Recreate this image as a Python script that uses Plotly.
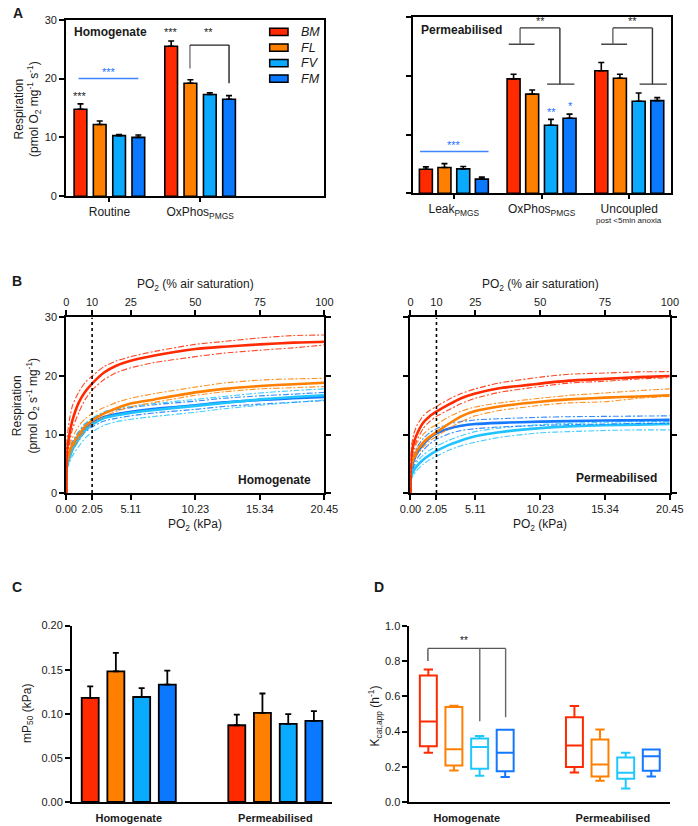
import plotly.graph_objects as go

W, H = 698, 826
def fx(p): return p / W
def fy(p): return 1 - p / H

FONT = 'Arial, Liberation Sans, Helvetica, sans-serif'
TXT = '#1a1a1a'
groups = ['BM', 'FL', 'FV', 'FM']
bar_colors = {'BM': '#FF2A00', 'FL': '#FF8000', 'FV': '#0AAAFF', 'FM': '#0A78FF'}
line_colors = {'BM': '#FF2A00', 'FL': '#FF8000', 'FV': '#22C4FF', 'FM': '#1478FF'}
box_colors = {'BM': '#FF2A00', 'FL': '#FF8000', 'FV': '#1EC8FF', 'FM': '#1478FF'}

# ---------------- Panel A data ----------------
a_hom_categories = ['Routine', 'OxPhos<sub>PMGS</sub>']
a_hom_BM = [14.8, 25.5]
a_hom_FL = [12.2, 19.2]
a_hom_FV = [10.3, 17.3]
a_hom_FM = [10.0, 16.5]
a_hom_BM_sem = [0.9, 0.9]
a_hom_FL_sem = [0.6, 0.6]
a_hom_FV_sem = [0.2, 0.3]
a_hom_FM_sem = [0.4, 0.6]

a_per_categories = ['Leak<sub>PMGS</sub>', 'OxPhos<sub>PMGS</sub>', 'Uncoupled']
a_per_note = 'post &lt;5min anoxia'
a_per_BM = [4.1, 19.5, 20.9]
a_per_FL = [4.4, 16.9, 19.6]
a_per_FV = [4.15, 11.6, 15.7]
a_per_FM = [2.4, 12.8, 15.8]
a_per_BM_sem = [0.4, 0.8, 1.4]
a_per_FL_sem = [0.65, 0.7, 0.7]
a_per_FV_sem = [0.4, 1.0, 1.4]
a_per_FM_sem = [0.35, 0.7, 0.5]

# ---------------- Panel B data ----------------
b_kpa = [0, 0.05, 0.25, 0.5, 1.0, 1.5, 2.05, 3.0, 4.0, 5.11, 7.0, 10.23, 12.5, 15.34, 18.0, 20.45]
b_kpa_ticks = [0, 2.05, 5.11, 10.23, 15.34, 20.45]
b_air_ticks = [0, 10, 25, 50, 75, 100]

b_hom_BM_mean = [0, 7.0, 10.0, 12.5, 15.5, 17.3, 18.7, 20.6, 21.8, 22.6, 23.5, 24.6, 25.0, 25.4, 25.7, 25.85]
b_hom_BM_hi = [0, 9.0, 12.5, 15.0, 17.3, 18.9, 20.0, 21.6, 22.6, 23.3, 24.2, 25.4, 25.9, 26.5, 26.9, 27.0]
b_hom_BM_lo = [0, 6.0, 8.5, 11.0, 13.8, 16.0, 17.6, 19.4, 20.6, 21.4, 22.3, 23.3, 23.9, 24.4, 24.8, 25.3]
b_hom_FL_mean = [0, 5.0, 7.0, 8.3, 10.0, 11.4, 12.4, 13.6, 14.5, 15.3, 16.0, 17.2, 17.8, 18.3, 18.6, 18.85]
b_hom_FL_hi = [0, 6.0, 8.0, 9.5, 11.5, 12.7, 13.6, 14.6, 15.5, 16.2, 17.0, 18.1, 18.8, 19.3, 19.5, 19.6]
b_hom_FL_lo = [0, 4.6, 6.5, 7.7, 9.3, 10.8, 11.9, 13.1, 14.0, 14.75, 15.5, 16.7, 17.3, 17.8, 18.0, 18.2]
b_hom_FV_mean = [0, 4.5, 6.0, 7.5, 9.3, 10.7, 11.7, 12.8, 13.3, 13.7, 14.2, 14.9, 15.4, 16.0, 16.4, 16.7]
b_hom_FV_hi = [0, 5.5, 7.2, 8.8, 10.6, 11.9, 12.8, 13.9, 14.4, 14.8, 15.3, 16.0, 16.5, 17.1, 17.5, 17.8]
b_hom_FV_lo = [0, 4.0, 5.2, 6.4, 8.0, 9.4, 10.4, 11.6, 12.2, 12.6, 13.1, 13.8, 14.4, 15.0, 15.5, 15.9]
b_hom_FM_mean = [0, 4.8, 6.5, 8.0, 9.8, 11.1, 12.0, 13.0, 13.5, 13.9, 14.4, 15.0, 15.5, 15.9, 16.2, 16.4]
b_hom_FM_hi = [0, 5.5, 7.2, 8.8, 10.5, 11.8, 12.7, 13.7, 14.2, 14.6, 15.1, 15.7, 16.2, 16.6, 16.9, 17.2]
b_hom_FM_lo = [0, 4.2, 5.8, 7.2, 9.0, 10.4, 11.3, 12.3, 12.8, 13.2, 13.7, 14.3, 14.8, 15.2, 15.5, 15.8]

b_per_BM_mean = [0, 6.0, 8.5, 10.0, 12.0, 13.1, 13.9, 15.1, 16.2, 17.0, 17.9, 18.7, 19.2, 19.5, 19.8, 20.0]
b_per_BM_hi = [0, 7.5, 10.0, 11.5, 13.2, 14.1, 14.8, 16.0, 17.0, 17.8, 18.8, 19.8, 20.3, 20.5, 20.7, 20.75]
b_per_BM_lo = [0, 5.0, 7.5, 9.0, 11.0, 12.2, 13.1, 14.2, 15.3, 16.2, 17.2, 18.2, 18.8, 19.1, 19.5, 19.7]
b_per_FL_mean = [0, 4.5, 6.0, 7.2, 8.6, 9.6, 10.4, 11.8, 13.1, 14.0, 14.8, 15.6, 16.0, 16.3, 16.5, 16.7]
b_per_FL_hi = [0, 5.5, 7.2, 8.5, 10.0, 11.0, 11.7, 13.0, 14.0, 14.7, 15.4, 16.2, 16.7, 17.1, 17.5, 17.8]
b_per_FL_lo = [0, 4.0, 5.4, 6.5, 7.8, 8.9, 9.7, 11.0, 12.2, 13.2, 14.1, 15.0, 15.4, 15.6, 16.2, 16.5]
b_per_FV_mean = [0, 2.8, 3.8, 4.6, 5.7, 6.5, 7.2, 8.2, 9.0, 9.7, 10.4, 11.1, 11.4, 11.6, 11.7, 11.8]
b_per_FV_hi = [0, 3.3, 4.4, 5.3, 6.5, 7.3, 8.0, 9.0, 9.8, 10.5, 11.1, 11.7, 11.9, 12.1, 12.2, 12.2]
b_per_FV_lo = [0, 2.3, 3.1, 3.9, 4.9, 5.7, 6.3, 7.3, 8.1, 8.7, 9.5, 10.3, 10.5, 10.7, 10.8, 10.8]
b_per_FM_mean = [0, 4.0, 5.5, 6.8, 8.3, 9.4, 10.2, 11.0, 11.5, 11.8, 12.0, 12.2, 12.3, 12.4, 12.45, 12.5]
b_per_FM_hi = [0, 4.8, 6.5, 7.8, 9.3, 10.3, 11.0, 11.8, 12.2, 12.5, 12.7, 12.95, 13.05, 13.1, 13.15, 13.2]
b_per_FM_lo = [0, 3.3, 4.6, 5.8, 7.3, 8.4, 9.2, 10.1, 10.7, 11.0, 11.3, 11.55, 11.7, 11.8, 11.9, 11.95]

# ---------------- Panel C data ----------------
cd_categories = ['<b>Homogenate</b>', '<b>Permeabilised</b>']
c_BM = [0.118, 0.087]
c_FL = [0.148, 0.101]
c_FV = [0.119, 0.0886]
c_FM = [0.133, 0.092]
c_BM_sem = [0.013, 0.012]
c_FL_sem = [0.021, 0.022]
c_FV_sem = [0.010, 0.011]
c_FM_sem = [0.016, 0.011]

# ---------------- Panel D data (box stats) ----------------
d_BM_min = [0.280, 0.168]; d_BM_q1 = [0.317, 0.198]; d_BM_med = [0.457, 0.321]; d_BM_q3 = [0.718, 0.481]; d_BM_max = [0.752, 0.545]
d_FL_min = [0.179, 0.121]; d_FL_q1 = [0.207, 0.144]; d_FL_med = [0.299, 0.213]; d_FL_q3 = [0.539, 0.354]; d_FL_max = [0.547, 0.412]
d_FV_min = [0.149, 0.076]; d_FV_q1 = [0.188, 0.132]; d_FV_med = [0.312, 0.166]; d_FV_q3 = [0.360, 0.252]; d_FV_max = [0.375, 0.280]
d_FM_min = [0.142, 0.144]; d_FM_q1 = [0.174, 0.177]; d_FM_med = [0.280, 0.259]; d_FM_q3 = [0.410, 0.298]; d_FM_max = [0.410, 0.298]

fig = go.Figure()

# ---- Panel A bars
offsA = {'BM': -0.319, 'FL': -0.107, 'FV': 0.107, 'FM': 0.319}
a_hom = {'BM': (a_hom_BM, a_hom_BM_sem), 'FL': (a_hom_FL, a_hom_FL_sem),
         'FV': (a_hom_FV, a_hom_FV_sem), 'FM': (a_hom_FM, a_hom_FM_sem)}
a_per = {'BM': (a_per_BM, a_per_BM_sem), 'FL': (a_per_FL, a_per_FL_sem),
         'FV': (a_per_FV, a_per_FV_sem), 'FM': (a_per_FM, a_per_FM_sem)}
for g in groups:
    v, s = a_hom[g]
    fig.add_trace(go.Bar(x=[i + offsA[g] for i in range(len(v))], y=v, width=0.14,
                         marker=dict(color=bar_colors[g], line=dict(color='black', width=1.6)),
                         error_y=dict(type='data', array=s, arrayminus=[0] * len(s), symmetric=False,
                                      color='black', thickness=1.6, width=3),
                         xaxis='x', yaxis='y', showlegend=False))
    v, s = a_per[g]
    fig.add_trace(go.Bar(x=[i + offsA[g] for i in range(len(v))], y=v, width=0.148,
                         marker=dict(color=bar_colors[g], line=dict(color='black', width=1.6)),
                         error_y=dict(type='data', array=s, arrayminus=[0] * len(s), symmetric=False,
                                      color='black', thickness=1.6, width=3),
                         xaxis='x2', yaxis='y2', showlegend=False))

# ---- Panel B curves
b_hom = {'BM': (b_hom_BM_mean, b_hom_BM_hi, b_hom_BM_lo), 'FL': (b_hom_FL_mean, b_hom_FL_hi, b_hom_FL_lo),
         'FV': (b_hom_FV_mean, b_hom_FV_hi, b_hom_FV_lo), 'FM': (b_hom_FM_mean, b_hom_FM_hi, b_hom_FM_lo)}
b_per = {'BM': (b_per_BM_mean, b_per_BM_hi, b_per_BM_lo), 'FL': (b_per_FL_mean, b_per_FL_hi, b_per_FL_lo),
         'FV': (b_per_FV_mean, b_per_FV_hi, b_per_FV_lo), 'FM': (b_per_FM_mean, b_per_FM_hi, b_per_FM_lo)}
for data, xa, ya, order in ((b_hom, 'x3', 'y3', ['FM', 'FV', 'FL', 'BM']), (b_per, 'x4', 'y4', ['FV', 'FM', 'FL', 'BM'])):
    for g in order:
        m, hi, lo = data[g]
        for arr in (hi, lo):
            fig.add_trace(go.Scatter(x=b_kpa, y=arr, mode='lines', xaxis=xa, yaxis=ya,
                                     line=dict(color=line_colors[g], width=1.1, dash='6px,2px,2px,2px', shape='spline', smoothing=0.6),
                                     opacity=0.85, showlegend=False, hoverinfo='skip'))
        fig.add_trace(go.Scatter(x=b_kpa, y=m, mode='lines', xaxis=xa, yaxis=ya,
                                 line=dict(color=line_colors[g], width=2.6, shape='spline', smoothing=0.6),
                                 showlegend=False, hoverinfo='skip'))
# invisible traces to activate top (% air saturation) axes
for xa, ya in (('x7', 'y3'), ('x8', 'y4')):
    fig.add_trace(go.Scatter(x=b_air_ticks, y=[None] * len(b_air_ticks), mode='markers',
                             xaxis=xa, yaxis=ya, showlegend=False, hoverinfo='skip'))

# ---- Panel C bars
offsC = {'BM': -0.263, 'FL': -0.088, 'FV': 0.088, 'FM': 0.263}
c_data = {'BM': (c_BM, c_BM_sem), 'FL': (c_FL, c_FL_sem), 'FV': (c_FV, c_FV_sem), 'FM': (c_FM, c_FM_sem)}
for g in groups:
    v, s = c_data[g]
    fig.add_trace(go.Bar(x=[i + offsC[g] for i in range(len(v))], y=v, width=0.116,
                         marker=dict(color=bar_colors[g], line=dict(color='black', width=1.8)),
                         error_y=dict(type='data', array=s, arrayminus=[0] * len(s), symmetric=False,
                                      color='black', thickness=1.8, width=3),
                         xaxis='x5', yaxis='y5', showlegend=False))

# ---- Panel D boxes
d_data = {'BM': (d_BM_min, d_BM_q1, d_BM_med, d_BM_q3, d_BM_max),
          'FL': (d_FL_min, d_FL_q1, d_FL_med, d_FL_q3, d_FL_max),
          'FV': (d_FV_min, d_FV_q1, d_FV_med, d_FV_q3, d_FV_max),
          'FM': (d_FM_min, d_FM_q1, d_FM_med, d_FM_q3, d_FM_max)}
for g in groups:
    mn, q1, md, q3, mx = d_data[g]
    fig.add_trace(go.Box(x=[i + offsC[g] for i in range(len(md))], lowerfence=mn, q1=q1, median=md,
                         q3=q3, upperfence=mx, width=0.116, whiskerwidth=0.55,
                         line=dict(color=box_colors[g], width=2), fillcolor='rgba(255,255,255,0)',
                         boxpoints=False, xaxis='x6', yaxis='y6', showlegend=False, hoverinfo='skip'))

# ---------------- Axes ----------------
def axis(dom, rng, lw=1.6, **kw):
    d = dict(domain=dom, range=rng, showline=True, linecolor='black', linewidth=lw, showgrid=False,
             zeroline=False, ticks='outside', ticklen=5, tickwidth=lw, tickcolor='black',
             tickfont=dict(family=FONT, size=11, color=TXT))
    d.update(kw)
    return d

layout = dict(
    width=W, height=H, margin=dict(l=0, r=0, t=0, b=0), paper_bgcolor='white', plot_bgcolor='white',
    font=dict(family=FONT, color=TXT), barmode='overlay', boxmode='overlay',
    # A left
    xaxis=axis([fx(57), fx(325)], [-0.479, 2.37], anchor='y', mirror=True, ticklen=4,
               tickvals=list(range(len(a_hom_categories))), ticktext=a_hom_categories,
               tickfont=dict(family=FONT, size=12, color=TXT)),
    yaxis=axis([fy(193), fy(14)], [0, 30], anchor='x', mirror=True, tickvals=[0, 10, 20, 30]),
    # A right
    xaxis2=axis([fx(417), fx(684)], [-0.465, 2.47], anchor='y2', mirror=True, ticklen=4,
                tickvals=list(range(len(a_per_categories))), ticktext=a_per_categories,
                tickfont=dict(family=FONT, size=12, color=TXT)),
    yaxis2=axis([fy(190), fy(11.5)], [0, 30], anchor='x2', mirror=True, tickvals=[0, 10, 20, 30],
                showticklabels=False),
    # B left
    xaxis3=axis([fx(57.3), fx(325)], [0, 20.45], lw=2, anchor='y3', mirror=True, tickvals=b_kpa_ticks,
                ticktext=['%.2f' % t for t in b_kpa_ticks]),
    yaxis3=axis([fy(494.3), fy(316)], [0, 30], lw=2, anchor='x3', mirror='ticks', tickvals=[0, 10, 20, 30]),
    xaxis7=axis(None, [0, 100], lw=2, overlaying='x3', side='top', anchor='y3', tickvals=b_air_ticks),
    # B right
    xaxis4=axis([fx(414.3), fx(683.3)], [0, 20.45], lw=2, anchor='y4', mirror=True, tickvals=b_kpa_ticks,
                ticktext=['%.2f' % t for t in b_kpa_ticks]),
    yaxis4=axis([fy(494.3), fy(316)], [0, 30], lw=2, anchor='x4', mirror='ticks', tickvals=[0, 10, 20, 30],
                showticklabels=False),
    xaxis8=axis(None, [0, 100], lw=2, overlaying='x4', side='top', anchor='y4', tickvals=b_air_ticks),
    # C
    xaxis5=axis([fx(63.3), fx(333.3)], [-0.387, 1.389], lw=2, anchor='y5', ticklen=5,
                tickcolor='rgba(0,0,0,0)', tickvals=[0, 1], ticktext=cd_categories),
    yaxis5=axis([fy(807.7), fy(628.7)], [0, 0.2], lw=2, anchor='x5', tickvals=[0, 0.05, 0.1, 0.15, 0.2],
                tickformat='.2f'),
    # D
    xaxis6=axis([fx(413.3), fx(683.3)], [-0.392, 1.39], lw=2, anchor='y6', ticklen=5,
                tickcolor='rgba(0,0,0,0)', tickvals=[0, 1], ticktext=cd_categories),
    yaxis6=axis([fy(807.7), fy(629)], [0, 1.0], lw=2, anchor='x6', tickvals=[0, 0.2, 0.4, 0.6, 0.8, 1.0],
                tickformat='.1f'),
)
for k in ('xaxis7', 'xaxis8'):
    layout[k].pop('domain')
fig.update_layout(**layout)

ann = []
shapes = []
def txt(x, y, text, size=11, color=TXT, xref='paper', yref='paper', xanchor='center', yanchor='middle', angle=0):
    ann.append(dict(x=x, y=y, text=text, xref=xref, yref=yref, showarrow=False, xanchor=xanchor,
                    yanchor=yanchor, textangle=angle, font=dict(family=FONT, size=size, color=color)))
def seg(x0, y0, x1, y1, xref, yref, color='#333', width=1.4, dash='solid'):
    shapes.append(dict(type='line', x0=x0, y0=y0, x1=x1, y1=y1, xref=xref, yref=yref,
                       line=dict(color=color, width=width, dash=dash)))

# Panel letters
txt(fx(7.5), fy(7), '<b>A</b>', 14)
txt(fx(6), fy(279), '<b>B</b>', 14)
txt(fx(6), fy(590), '<b>C</b>', 14)
txt(fx(381.7), fy(590), '<b>D</b>', 14)

# Axis titles
txt(fx(17), fy(104), 'Respiration<br>(pmol O<sub>2</sub> mg<sup>-1</sup> s<sup>-1</sup>)', 12, angle=-90)
txt(fx(15), fy(405), 'Respiration<br>(pmol O<sub>2</sub> s<sup>-1</sup> mg<sup>-1</sup>)', 12, angle=-90)
txt(fx(17), fy(718), 'mP<sub>50</sub> (kPa)', 12, angle=-90)
txt(fx(377.5), fy(720), 'K<sub>cat,app</sub> (h<sup>-1</sup>)', 12, angle=-90)
for cx in (191, 549):
    txt(fx(cx), fy(283), 'PO<sub>2</sub> (% air saturation)', 12)
    txt(fx(cx), fy(527), 'PO<sub>2</sub> (kPa)', 12)

# Panel A left annotations
txt(fx(63), fy(26), '<b>Homogenate</b>', 12, xanchor='left')
txt(-0.319, 17.1, '***', 11, xref='x', yref='y')
seg(-0.34, 20, 0.319, 20, 'x', 'y', color='#3F85FF', width=1.5)
txt(0.0, 21.2, '***', 11, color='#1F6FFF', xref='x', yref='y')
txt(0.681, 27.9, '***', 11, xref='x', yref='y')
seg(0.888, 21.7, 0.888, 25.7, 'x', 'y', color='#777')
seg(0.888, 25.7, 1.319, 25.7, 'x', 'y', color='#222')
seg(1.319, 25.7, 1.319, 19.2, 'x', 'y', color='#222')
txt(1.096, 27.9, '**', 11, xref='x', yref='y')
# legend
for g, cy in zip(groups, (26.3, 42.2, 58, 73.7)):
    shapes.append(dict(type='rect', xref='paper', yref='paper', x0=fx(268.3), x1=fx(287.3),
                       y0=fy(cy + 3.7), y1=fy(cy - 3.7), fillcolor=bar_colors[g],
                       line=dict(color='black', width=1.5)))
    txt(fx(299), fy(cy), '<i>%s</i>' % g, 12.5, xanchor='left')

# Panel A right annotations
txt(fx(423), fy(24), '<b>Permeabilised</b>', 12, xanchor='left')
txt(2, fy(217.5), a_per_note, 8, xref='x2')
seg(-0.385, 7.1, 0.396, 7.1, 'x2', 'y2', color='#3F85FF', width=1.5)
txt(0.0, 8.2, '***', 11, color='#1F6FFF', xref='x2', yref='y2')
txt(1.11, 13.8, '**', 11, color='#1F6FFF', xref='x2', yref='y2')
txt(1.33, 14.9, '*', 11, color='#1F6FFF', xref='x2', yref='y2')
for (l0, l1, lv, rv, r0, r1, st) in ((0.626, 0.92, 0.755, 1.209, 1.063, 1.374, 0.989),
                                     (1.68, 1.975, 1.813, 2.264, 2.118, 2.429, 2.04)):
    seg(l0, 25.4, l1, 25.4, 'x2', 'y2', color='#444')
    seg(lv, 25.4, lv, 28.2, 'x2', 'y2', color='#666')
    seg(lv, 28.2, rv, 28.2, 'x2', 'y2', color='#333')
    seg(rv, 28.2, rv, 18.6, 'x2', 'y2', color='#333')
    seg(r0, 18.6, r1, 18.6, 'x2', 'y2', color='#333')
    txt(st, 29.3, '**', 11, xref='x2', yref='y2')

# Panel B annotations
for xa, ya in (('x3', 'y3'), ('x4', 'y4')):
    seg(2.05, 0, 2.05, 30, xa, ya, color='black', width=1.6, dash='dot')
txt(fx(313), fy(481), '<b>Homogenate</b>', 12, xanchor='right')
txt(fx(672), fy(479), '<b>Permeabilised</b>', 12, xanchor='right')

# Panel D bracket
seg(-0.266, 0.80, -0.266, 0.872, 'x6', 'y6', color='#555')
seg(-0.266, 0.872, 0.266, 0.872, 'x6', 'y6', color='#555')
seg(0.089, 0.872, 0.089, 0.459, 'x6', 'y6', color='#666')
seg(0.266, 0.872, 0.266, 0.481, 'x6', 'y6', color='#666')
txt(-0.016, 0.918, '**', 10, color='#111111', xref='x6', yref='y6')

fig.update_layout(annotations=ann, shapes=shapes)
fig.write_html('out.html')
